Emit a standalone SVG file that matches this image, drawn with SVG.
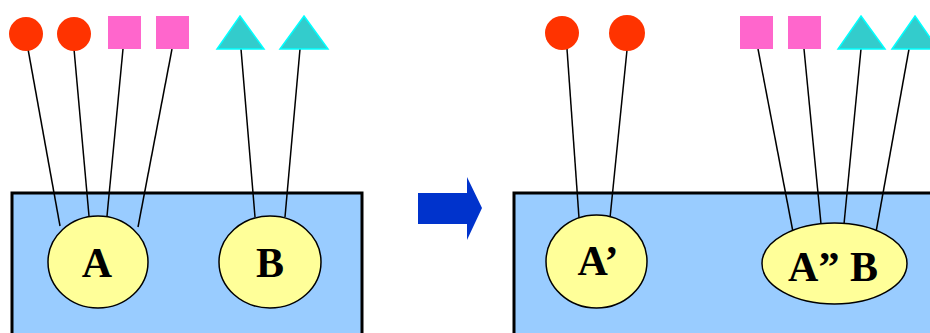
<svg xmlns="http://www.w3.org/2000/svg" width="930" height="333" viewBox="0 0 930 333">
<style>
.box{fill:#99CCFF;stroke:#000;stroke-width:3}
.dot{fill:#FF3300}
.sq{fill:#FF66CC}
.tri{fill:#33CCCC;stroke:#00FFFF;stroke-width:1.5;stroke-linejoin:miter}
.ell{fill:#FFFF99;stroke:#000;stroke-width:1.5}
.lbl{font-family:"Liberation Serif","Times New Roman",serif;font-weight:bold;font-size:42px;fill:#000;text-anchor:middle}
.ln{stroke:#000;stroke-width:1.5;fill:none}
</style>
<rect x="0" y="0" width="930" height="333" fill="#fff"/>
<g id="box-left"><rect class="box" x="12" y="193" width="350" height="150"/></g>
<g id="box-right"><rect class="box" x="514" y="193" width="430" height="150"/></g>
<g id="arrow"><polygon points="418,193 467,193 467,177 482,208 467,240 467,224 418,224" fill="#0033CC"/></g>
<g id="connectors">
<line class="ln" x1="28" y1="49" x2="60" y2="226"/>
<line class="ln" x1="74" y1="49" x2="89" y2="216"/>
<line class="ln" x1="123" y1="49" x2="107" y2="216"/>
<line class="ln" x1="172" y1="49" x2="138" y2="227"/>
<line class="ln" x1="241" y1="49" x2="255" y2="217"/>
<line class="ln" x1="300" y1="49" x2="285" y2="217"/>
<line class="ln" x1="567" y1="49" x2="579" y2="218"/>
<line class="ln" x1="627" y1="50" x2="610" y2="218"/>
<line class="ln" x1="758" y1="49" x2="793" y2="232"/>
<line class="ln" x1="804" y1="49" x2="821" y2="224"/>
<line class="ln" x1="861" y1="49" x2="844" y2="224"/>
<line class="ln" x1="909" y1="49" x2="876" y2="232"/>
</g>
<g id="circle1"><circle class="dot" cx="26" cy="34" r="17"/></g>
<g id="circle2"><circle class="dot" cx="74" cy="34" r="17"/></g>
<g id="square1"><rect class="sq" x="108" y="16" width="33" height="33"/></g>
<g id="square2"><rect class="sq" x="156" y="16" width="33" height="33"/></g>
<g id="triangle1"><polygon class="tri" points="240,16 264,49 217,49"/></g>
<g id="triangle2"><polygon class="tri" points="304,16 328,49 280,49"/></g>
<g id="circle3"><circle class="dot" cx="562" cy="33" r="17"/></g>
<g id="circle4"><circle class="dot" cx="627" cy="33" r="18"/></g>
<g id="square3"><rect class="sq" x="740" y="16" width="33" height="33"/></g>
<g id="square4"><rect class="sq" x="788" y="16" width="33" height="33"/></g>
<g id="triangle3"><polygon class="tri" points="861,16 885,49 838,49"/></g>
<g id="triangle4"><polygon class="tri" points="915,16 938,49 892,49"/></g>
<g id="node-A"><ellipse class="ell" cx="98" cy="262" rx="50" ry="46"/><text class="lbl" x="97" y="277">A</text></g>
<g id="node-B"><ellipse class="ell" cx="270" cy="262" rx="51" ry="46"/><text class="lbl" x="270" y="277">B</text></g>
<g id="node-A1"><ellipse class="ell" cx="596.5" cy="261.5" rx="50.5" ry="46.5"/><text class="lbl" x="598" y="275">A’</text></g>
<g id="node-A2B"><ellipse class="ell" cx="834.5" cy="263.5" rx="72.5" ry="40.5"/><text class="lbl" x="833" y="281">A” B</text></g>
</svg>
